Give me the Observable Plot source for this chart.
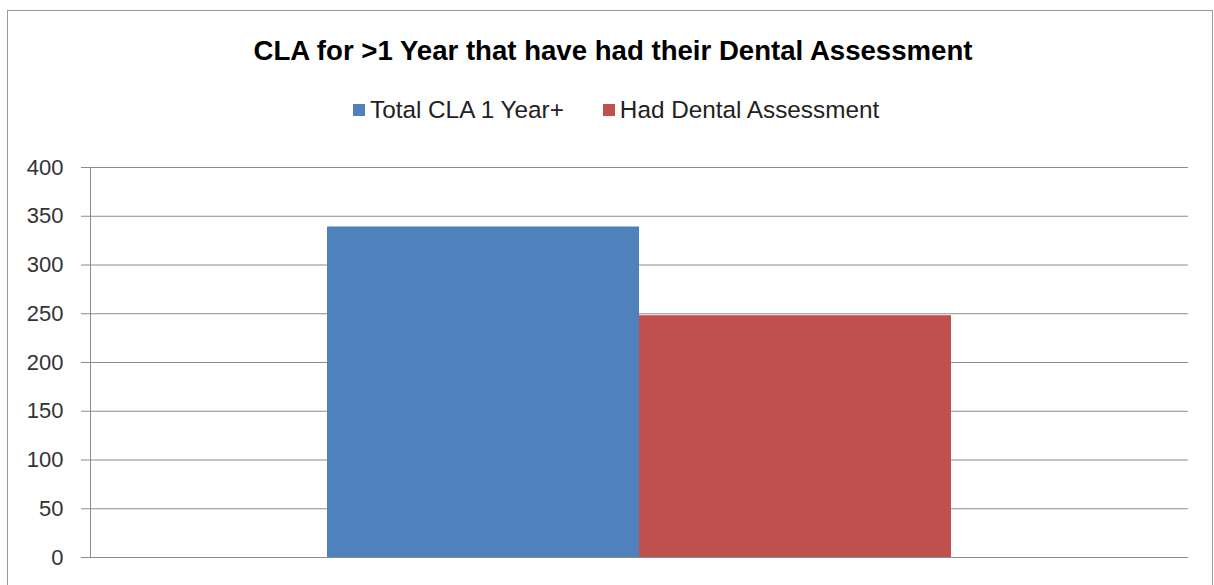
<!DOCTYPE html>
<html>
<head>
<meta charset="utf-8">
<script src="https://cdn.jsdelivr.net/npm/d3@7"></script>
<script src="https://cdn.jsdelivr.net/npm/@observablehq/plot@0.6"></script>
<style>
  html, body { margin: 0; padding: 0; background: #fff; }
  #page { position: relative; width: 1214px; height: 585px; overflow: hidden; background: #fff; font-family: "Liberation Sans", Arial, sans-serif; }
  #frame { position: absolute; left: 7px; top: 10px; width: 1206px; height: 620px; border: 1px solid #9a9a9a; box-sizing: border-box; }
  #title { position: absolute; left: 6px; width: 1214px; top: 37px; text-align: center; font-weight: bold; font-size: 27.6px; line-height: 1; color: #000; white-space: nowrap; }
  #legend { position: absolute; left: 353px; top: 98px; }
  #legend .lg-swatches, #legend > div { display: flex !important; flex-wrap: nowrap !important; align-items: center; font-family: "Liberation Sans", Arial, sans-serif !important; font-size: 24.3px !important; line-height: 24px; color: #222; margin: 0 !important; min-height: 0 !important; }
  #legend span { display: inline-flex !important; align-items: center !important; margin-right: 39px !important; margin-left: 0 !important; white-space: nowrap; }
  #legend svg { margin-right: 5px !important; }
  #chart { position: absolute; left: 0; top: 140px; }
</style>
</head>
<body>
<div id="page">
  <div id="frame"></div>
  <div id="title">CLA for &gt;1 Year that have had their Dental Assessment</div>
  <div id="legend"></div>
  <div id="chart"></div>
</div>
<script>
const series = ["Total CLA 1 Year+", "Had Dental Assessment"];
const values = [339, 248];
const colors = ["#4F81BD", "#C0504D"];
const yTicks = [0, 50, 100, 150, 200, 250, 300, 350, 400];

const data = series.map((s, i) => ({series: s, value: values[i]}));

const legend = Plot.legend({
  color: {domain: series, range: colors},
  legend: "swatches",
  swatchSize: 12,
  className: "lg"
});
document.getElementById("legend").append(legend);

const plot = Plot.plot({
  width: 1214,
  height: 445,
  marginTop: 27,
  marginBottom: 28,
  marginLeft: 90,
  marginRight: 26,
  style: {fontFamily: "Liberation Sans, Arial, sans-serif", background: "transparent"},
  x: {domain: series, paddingInner: 0, paddingOuter: 0.757, axis: null},
  y: {domain: [0, 400], axis: null},
  color: {domain: series, range: colors},
  marks: [
    Plot.ruleY(yTicks, {stroke: "#8c8c8c", strokeWidth: 1}),
    Plot.barY(data, {x: "series", y: "value", fill: "series"}),
    Plot.frame({anchor: "left", stroke: "#8c8c8c"}),
    Plot.axisY({ticks: yTicks, tickSize: 9, tickPadding: 18, stroke: "#8c8c8c", fill: "#333", fontSize: 22, label: null, tickFormat: d => String(d)})
  ]
});
document.getElementById("chart").append(plot);
</script>
</body>
</html>
